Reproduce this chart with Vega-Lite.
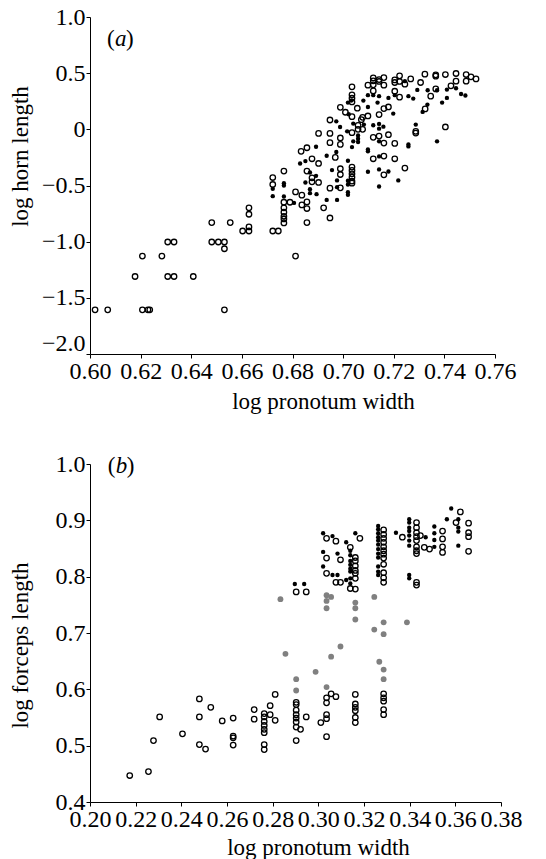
{
  "$schema": "https://vega.github.io/schema/vega-lite/v6.json",
  "padding": {"left": 8, "top": 5, "right": 5, "bottom": 5},
  "spacing": 39,
  "resolve": {"scale": {"fill": "independent", "stroke": "independent", "size": "independent"}},
  "config": {
    "font": "Liberation Serif",
    "view": {"stroke": null},
    "axis": {
      "grid": false, "domainColor": "black", "domainWidth": 1, "tickColor": "black", "tickSize": 4, "tickWidth": 1,
      "labelFont": "Liberation Serif", "labelFontSize": 24, "labelColor": "black", "labelPadding": 1,
      "labelOverlap": false, "labelFlush": false, "labelBound": false,
      "titleFont": "Liberation Serif", "titleFontSize": 23, "titleFontWeight": "normal", "titleColor": "black"
    }
  },
  "vconcat": [
    {
      "width": 405,
      "height": 337,
      "layer": [
        {
          "data": {"values": [
            {"x":0.6020,"y":-1.607,"t":"o"},{"x":0.6070,"y":-1.607,"t":"o"},{"x":0.6207,"y":-1.607,"t":"o"},{"x":0.6229,"y":-1.607,"t":"o"},{"x":0.6236,"y":-1.607,"t":"o"},{"x":0.6531,"y":-1.607,"t":"o"},
            {"x":0.6178,"y":-1.310,"t":"o"},{"x":0.6307,"y":-1.310,"t":"o"},{"x":0.6332,"y":-1.310,"t":"o"},{"x":0.6408,"y":-1.310,"t":"o"},
            {"x":0.6207,"y":-1.128,"t":"o"},{"x":0.6284,"y":-1.128,"t":"o"},{"x":0.6812,"y":-1.128,"t":"o"},
            {"x":0.6307,"y":-1.003,"t":"o"},{"x":0.6332,"y":-1.003,"t":"o"},{"x":0.6481,"y":-1.003,"t":"o"},{"x":0.6507,"y":-1.003,"t":"o"},{"x":0.6531,"y":-1.003,"t":"o"},{"x":0.6531,"y":-1.063,"t":"o"},
            {"x":0.6481,"y":-0.830,"t":"o"},{"x":0.6554,"y":-0.830,"t":"o"},
            {"x":0.6603,"y":-0.905,"t":"o"},{"x":0.6628,"y":-0.905,"t":"o"},{"x":0.6628,"y":-0.869,"t":"o"},{"x":0.6628,"y":-0.756,"t":"o"},{"x":0.6628,"y":-0.699,"t":"o"},
            {"x":0.6722,"y":-0.905,"t":"o"},{"x":0.6744,"y":-0.905,"t":"o"},
            {"x":0.6722,"y":-0.429,"t":"o"},{"x":0.6722,"y":-0.491,"t":"o"},
            {"x":0.6766,"y":-0.372,"t":"o"},{"x":0.6766,"y":-0.649,"t":"o"},{"x":0.6766,"y":-0.699,"t":"o"},{"x":0.6766,"y":-0.738,"t":"o"},{"x":0.6766,"y":-0.774,"t":"o"},{"x":0.6766,"y":-0.798,"t":"o"},{"x":0.6766,"y":-0.833,"t":"o"},
            {"x":0.6790,"y":-0.649,"t":"o"},{"x":0.6812,"y":-0.557,"t":"o"},{"x":0.6837,"y":-0.586,"t":"o"},{"x":0.6857,"y":-0.646,"t":"o"},{"x":0.6837,"y":-0.673,"t":"o"},{"x":0.6857,"y":-0.705,"t":"o"},{"x":0.6857,"y":-0.830,"t":"o"},{"x":0.6923,"y":-0.699,"t":"o"},
            {"x":0.6834,"y":-0.196,"t":"o"},{"x":0.6857,"y":-0.164,"t":"o"},{"x":0.6857,"y":-0.372,"t":"o"},{"x":0.6877,"y":-0.262,"t":"o"},{"x":0.6877,"y":-0.432,"t":"o"},{"x":0.6877,"y":-0.467,"t":"o"},{"x":0.6903,"y":-0.473,"t":"o"},{"x":0.6903,"y":-0.304,"t":"o"},{"x":0.6903,"y":-0.036,"t":"o"},
            {"x":0.6948,"y":-0.789,"t":"o"},{"x":0.6948,"y":-0.524,"t":"o"},{"x":0.6969,"y":-0.250,"t":"o"},{"x":0.6948,"y":-0.119,"t":"o"},{"x":0.6948,"y":-0.036,"t":"o"},{"x":0.6948,"y":0.083,"t":"o"},
            {"x":0.6989,"y":-0.077,"t":"o"},{"x":0.6989,"y":-0.134,"t":"o"},{"x":0.6989,"y":-0.351,"t":"o"},{"x":0.6989,"y":-0.402,"t":"o"},{"x":0.6989,"y":-0.521,"t":"o"},{"x":0.6989,"y":0.196,"t":"o"},
            {"x":0.7009,"y":0.152,"t":"o"},{"x":0.7035,"y":0.113,"t":"o"},
            {"x":0.7035,"y":0.378,"t":"o"},{"x":0.7035,"y":0.307,"t":"o"},{"x":0.7035,"y":0.277,"t":"o"},{"x":0.7035,"y":0.244,"t":"o"},{"x":0.7056,"y":0.188,"t":"o"},
            {"x":0.7035,"y":-0.030,"t":"o"},{"x":0.7035,"y":-0.336,"t":"o"},{"x":0.7035,"y":-0.366,"t":"o"},{"x":0.7035,"y":-0.396,"t":"o"},{"x":0.7035,"y":-0.426,"t":"o"},{"x":0.7035,"y":-0.461,"t":"o"},{"x":0.7035,"y":-0.479,"t":"o"},
            {"x":0.7059,"y":0.036,"t":"o"},{"x":0.7059,"y":0.000,"t":"o"},{"x":0.7072,"y":0.086,"t":"o"},{"x":0.7077,"y":0.107,"t":"o"},{"x":0.7098,"y":0.393,"t":"o"},{"x":0.7098,"y":0.119,"t":"o"},{"x":0.7077,"y":0.000,"t":"o"},
            {"x":0.7119,"y":0.458,"t":"o"},{"x":0.7119,"y":0.432,"t":"o"},{"x":0.7119,"y":0.396,"t":"o"},{"x":0.7119,"y":0.342,"t":"o"},{"x":0.7119,"y":-0.071,"t":"o"},{"x":0.7119,"y":-0.262,"t":"o"},
            {"x":0.7142,"y":0.443,"t":"o"},{"x":0.7142,"y":0.426,"t":"o"},{"x":0.7142,"y":0.131,"t":"o"},{"x":0.7142,"y":-0.060,"t":"o"},
            {"x":0.7161,"y":0.461,"t":"o"},{"x":0.7161,"y":0.393,"t":"o"},{"x":0.7161,"y":0.185,"t":"o"},{"x":0.7161,"y":-0.122,"t":"o"},{"x":0.7161,"y":-0.238,"t":"o"},{"x":0.7161,"y":-0.405,"t":"o"},
            {"x":0.7179,"y":-0.048,"t":"o"},{"x":0.7179,"y":0.199,"t":"o"},
            {"x":0.7204,"y":0.440,"t":"o"},{"x":0.7204,"y":0.417,"t":"o"},{"x":0.7204,"y":0.339,"t":"o"},{"x":0.7204,"y":-0.125,"t":"o"},{"x":0.7204,"y":-0.262,"t":"o"},
            {"x":0.7223,"y":0.476,"t":"o"},{"x":0.7223,"y":0.426,"t":"o"},{"x":0.7223,"y":0.286,"t":"o"},
            {"x":0.7244,"y":0.402,"t":"o"},{"x":0.7244,"y":-0.345,"t":"o"},
            {"x":0.7267,"y":0.449,"t":"o"},{"x":0.7287,"y":-0.018,"t":"o"},{"x":0.7287,"y":-0.033,"t":"o"},
            {"x":0.7306,"y":0.417,"t":"o"},{"x":0.7323,"y":0.491,"t":"o"},{"x":0.7324,"y":0.182,"t":"o"},{"x":0.7346,"y":0.295,"t":"o"},
            {"x":0.7366,"y":0.485,"t":"o"},{"x":0.7366,"y":0.473,"t":"o"},{"x":0.7366,"y":0.360,"t":"o"},
            {"x":0.7404,"y":0.488,"t":"o"},{"x":0.7404,"y":0.021,"t":"o"},{"x":0.7426,"y":0.387,"t":"o"},{"x":0.7446,"y":0.497,"t":"o"},{"x":0.7446,"y":0.429,"t":"o"},
            {"x":0.7486,"y":0.488,"t":"o"},{"x":0.7486,"y":0.429,"t":"o"},{"x":0.7505,"y":0.467,"t":"o"},{"x":0.7525,"y":0.449,"t":"o"},
            {"x":0.6722,"y":-0.530,"t":"f"},{"x":0.6722,"y":-0.595,"t":"f"},
            {"x":0.6766,"y":-0.479,"t":"f"},{"x":0.6766,"y":-0.500,"t":"f"},{"x":0.6766,"y":-0.598,"t":"f"},
            {"x":0.6806,"y":-0.655,"t":"f"},{"x":0.6830,"y":-0.304,"t":"f"},{"x":0.6851,"y":-0.283,"t":"f"},{"x":0.6869,"y":-0.384,"t":"f"},{"x":0.6893,"y":-0.414,"t":"f"},{"x":0.6869,"y":-0.533,"t":"f"},{"x":0.6869,"y":-0.568,"t":"f"},{"x":0.6895,"y":-0.577,"t":"f"},{"x":0.6851,"y":-0.473,"t":"f"},{"x":0.6893,"y":-0.155,"t":"f"},
            {"x":0.6935,"y":-0.628,"t":"f"},{"x":0.6956,"y":-0.363,"t":"f"},{"x":0.6935,"y":-0.235,"t":"f"},{"x":0.6973,"y":-0.202,"t":"f"},{"x":0.6973,"y":0.071,"t":"f"},{"x":0.6988,"y":0.021,"t":"f"},
            {"x":0.6976,"y":-0.455,"t":"f"},{"x":0.6976,"y":-0.515,"t":"f"},{"x":0.6976,"y":-0.628,"t":"f"},
            {"x":0.7019,"y":0.238,"t":"f"},{"x":0.7032,"y":0.256,"t":"f"},{"x":0.7022,"y":0.134,"t":"f"},
            {"x":0.7019,"y":-0.280,"t":"f"},{"x":0.7019,"y":-0.458,"t":"f"},{"x":0.7019,"y":-0.491,"t":"f"},{"x":0.7019,"y":-0.560,"t":"f"},{"x":0.7019,"y":-0.583,"t":"f"},
            {"x":0.7016,"y":-0.018,"t":"f"},{"x":0.7035,"y":-0.158,"t":"f"},{"x":0.7040,"y":-0.107,"t":"f"},{"x":0.7059,"y":-0.054,"t":"f"},{"x":0.7059,"y":-0.083,"t":"f"},{"x":0.7059,"y":-0.113,"t":"f"},{"x":0.7040,"y":0.051,"t":"f"},
            {"x":0.7080,"y":0.256,"t":"f"},{"x":0.7098,"y":0.304,"t":"f"},{"x":0.7098,"y":0.199,"t":"f"},{"x":0.7082,"y":0.042,"t":"f"},
            {"x":0.7119,"y":0.304,"t":"f"},{"x":0.7119,"y":0.036,"t":"f"},
            {"x":0.7098,"y":-0.179,"t":"f"},{"x":0.7098,"y":-0.196,"t":"f"},{"x":0.7098,"y":-0.378,"t":"f"},
            {"x":0.7142,"y":0.295,"t":"f"},{"x":0.7136,"y":0.238,"t":"f"},{"x":0.7142,"y":0.048,"t":"f"},{"x":0.7142,"y":0.006,"t":"f"},{"x":0.7142,"y":-0.107,"t":"f"},{"x":0.7142,"y":-0.241,"t":"f"},{"x":0.7142,"y":-0.357,"t":"f"},{"x":0.7142,"y":-0.509,"t":"f"},
            {"x":0.7159,"y":0.024,"t":"f"},{"x":0.7179,"y":-0.375,"t":"f"},{"x":0.7179,"y":0.280,"t":"f"},
            {"x":0.7204,"y":0.304,"t":"f"},{"x":0.7198,"y":0.140,"t":"f"},{"x":0.7218,"y":-0.455,"t":"f"},
            {"x":0.7244,"y":0.429,"t":"f"},{"x":0.7258,"y":-0.134,"t":"f"},{"x":0.7258,"y":-0.152,"t":"f"},{"x":0.7258,"y":0.295,"t":"f"},
            {"x":0.7277,"y":0.274,"t":"f"},{"x":0.7287,"y":0.042,"t":"f"},{"x":0.7293,"y":0.351,"t":"f"},
            {"x":0.7314,"y":0.155,"t":"f"},{"x":0.7333,"y":0.220,"t":"f"},{"x":0.7334,"y":0.348,"t":"f"},
            {"x":0.7371,"y":-0.107,"t":"f"},{"x":0.7371,"y":0.348,"t":"f"},
            {"x":0.7410,"y":0.354,"t":"f"},{"x":0.7391,"y":0.238,"t":"f"},{"x":0.7446,"y":0.366,"t":"f"},{"x":0.7410,"y":0.280,"t":"f"},{"x":0.7466,"y":0.315,"t":"f"},{"x":0.7483,"y":0.301,"t":"f"}
          ]},
          "encoding": {
            "x": {"field": "x", "type": "quantitative",
                  "scale": {"domain": [0.6, 0.76], "nice": false, "zero": false},
                  "axis": {"title": "log pronotum width", "values": [0.6,0.62,0.64,0.66,0.68,0.7,0.72,0.74,0.76], "format": ".2f", "titleX": 233, "titleY": 36}},
            "y": {"field": "y", "type": "quantitative",
                  "scale": {"domain": [-2, 1], "nice": false, "zero": false},
                  "axis": {"title": "log horn length", "values": [-2,-1.5,-1,-0.5,0,0.5,1], "labelExpr": "datum.value == 0 ? '0' : format(datum.value, '.1f')",
                           "labelOffset": {"condition": {"test": "datum.value == -2", "value": -11}, "value": 0},
                           "titleX": -58, "titleY": 139}},
            "fill": {"field": "t", "type": "nominal", "scale": {"domain": ["o", "f", "g"], "range": ["transparent", "black", "#808080"]}, "legend": null},
            "stroke": {"field": "t", "type": "nominal", "scale": {"domain": ["o", "f", "g"], "range": ["black", "transparent", "transparent"]}, "legend": null},
            "size": {"field": "t", "type": "nominal", "scale": {"type": "ordinal", "domain": ["o", "f", "g"], "range": [30, 19, 34]}, "legend": null}
          },
          "mark": {"type": "point", "shape": "circle", "filled": true, "strokeWidth": 1.3, "opacity": 1}
        },
        {
          "data": {"values": [{"lab": "(", "it": "a", "rp": ")"}]},
          "encoding": {"x": {"datum": 0.6067}, "y": {"datum": 0.744}},
          "layer": [
            {"mark": {"type": "text", "align": "left", "baseline": "alphabetic", "font": "Liberation Serif", "fontSize": 23, "color": "black"},
             "encoding": {"text": {"field": "lab"}}},
            {"mark": {"type": "text", "dx": 8, "align": "left", "baseline": "alphabetic", "font": "Liberation Serif", "fontStyle": "italic", "fontSize": 23, "color": "black"},
             "encoding": {"text": {"field": "it"}}},
            {"mark": {"type": "text", "dx": 19, "align": "left", "baseline": "alphabetic", "font": "Liberation Serif", "fontSize": 23, "color": "black"},
             "encoding": {"text": {"field": "rp"}}}
          ]
        }
      ]
    },
    {
      "width": 411,
      "height": 338,
      "layer": [
        {
          "data": {"values": [
            {"x":0.2834,"y":0.760,"t":"g"},{"x":0.2856,"y":0.663,"t":"g"},{"x":0.2903,"y":0.618,"t":"g"},{"x":0.2903,"y":0.598,"t":"g"},{"x":0.2988,"y":0.631,"t":"g"},
            {"x":0.3036,"y":0.767,"t":"g"},{"x":0.3036,"y":0.757,"t":"g"},{"x":0.3056,"y":0.764,"t":"g"},{"x":0.3036,"y":0.744,"t":"g"},{"x":0.3036,"y":0.604,"t":"g"},
            {"x":0.3056,"y":0.658,"t":"g"},{"x":0.3097,"y":0.676,"t":"g"},{"x":0.3162,"y":0.754,"t":"g"},{"x":0.3162,"y":0.744,"t":"g"},{"x":0.3162,"y":0.724,"t":"g"},
            {"x":0.3245,"y":0.764,"t":"g"},{"x":0.3245,"y":0.706,"t":"g"},{"x":0.3267,"y":0.649,"t":"g"},{"x":0.3286,"y":0.719,"t":"g"},{"x":0.3286,"y":0.698,"t":"g"},
            {"x":0.3286,"y":0.635,"t":"g"},{"x":0.3286,"y":0.618,"t":"g"},{"x":0.3388,"y":0.719,"t":"g"},
            {"x":0.2174,"y":0.447,"t":"o"},{"x":0.2256,"y":0.454,"t":"o"},{"x":0.2278,"y":0.509,"t":"o"},{"x":0.2305,"y":0.551,"t":"o"},{"x":0.2405,"y":0.521,"t":"o"},
            {"x":0.2479,"y":0.583,"t":"o"},{"x":0.2479,"y":0.551,"t":"o"},{"x":0.2479,"y":0.502,"t":"o"},{"x":0.2506,"y":0.494,"t":"o"},{"x":0.2529,"y":0.568,"t":"o"},
            {"x":0.2579,"y":0.544,"t":"o"},{"x":0.2627,"y":0.549,"t":"o"},{"x":0.2627,"y":0.517,"t":"o"},{"x":0.2627,"y":0.514,"t":"o"},{"x":0.2627,"y":0.501,"t":"o"},
            {"x":0.2719,"y":0.564,"t":"o"},{"x":0.2719,"y":0.547,"t":"o"},
            {"x":0.2763,"y":0.557,"t":"o"},{"x":0.2763,"y":0.551,"t":"o"},{"x":0.2763,"y":0.543,"t":"o"},{"x":0.2763,"y":0.536,"t":"o"},{"x":0.2763,"y":0.529,"t":"o"},{"x":0.2763,"y":0.523,"t":"o"},{"x":0.2763,"y":0.502,"t":"o"},{"x":0.2763,"y":0.493,"t":"o"},
            {"x":0.2789,"y":0.571,"t":"o"},{"x":0.2789,"y":0.555,"t":"o"},{"x":0.2811,"y":0.591,"t":"o"},{"x":0.2811,"y":0.545,"t":"o"},
            {"x":0.2903,"y":0.577,"t":"o"},{"x":0.2903,"y":0.573,"t":"o"},{"x":0.2903,"y":0.563,"t":"o"},{"x":0.2903,"y":0.555,"t":"o"},{"x":0.2903,"y":0.549,"t":"o"},{"x":0.2903,"y":0.542,"t":"o"},{"x":0.2903,"y":0.533,"t":"o"},{"x":0.2903,"y":0.509,"t":"o"},
            {"x":0.2947,"y":0.551,"t":"o"},{"x":0.2922,"y":0.529,"t":"o"},{"x":0.3011,"y":0.541,"t":"o"},
            {"x":0.3036,"y":0.585,"t":"o"},{"x":0.3036,"y":0.576,"t":"o"},{"x":0.3036,"y":0.555,"t":"o"},{"x":0.3036,"y":0.548,"t":"o"},{"x":0.3036,"y":0.516,"t":"o"},
            {"x":0.3056,"y":0.592,"t":"o"},{"x":0.3077,"y":0.587,"t":"o"},
            {"x":0.3162,"y":0.591,"t":"o"},{"x":0.3162,"y":0.574,"t":"o"},{"x":0.3162,"y":0.568,"t":"o"},{"x":0.3162,"y":0.562,"t":"o"},{"x":0.3162,"y":0.550,"t":"o"},{"x":0.3162,"y":0.541,"t":"o"},
            {"x":0.3286,"y":0.592,"t":"o"},{"x":0.3286,"y":0.585,"t":"o"},{"x":0.3286,"y":0.579,"t":"o"},{"x":0.3286,"y":0.564,"t":"o"},{"x":0.3286,"y":0.555,"t":"o"},
            {"x":0.2903,"y":0.773,"t":"o"},{"x":0.2947,"y":0.773,"t":"o"},
            {"x":0.3036,"y":0.868,"t":"o"},{"x":0.3036,"y":0.833,"t":"o"},{"x":0.3036,"y":0.806,"t":"o"},
            {"x":0.3077,"y":0.863,"t":"o"},{"x":0.3097,"y":0.830,"t":"o"},{"x":0.3077,"y":0.790,"t":"o"},{"x":0.3097,"y":0.790,"t":"o"},
            {"x":0.3140,"y":0.852,"t":"o"},{"x":0.3140,"y":0.779,"t":"o"},
            {"x":0.3162,"y":0.834,"t":"o"},{"x":0.3162,"y":0.828,"t":"o"},{"x":0.3162,"y":0.819,"t":"o"},{"x":0.3162,"y":0.811,"t":"o"},{"x":0.3162,"y":0.806,"t":"o"},{"x":0.3162,"y":0.797,"t":"o"},{"x":0.3162,"y":0.778,"t":"o"},
            {"x":0.3182,"y":0.868,"t":"o"},
            {"x":0.3286,"y":0.883,"t":"o"},{"x":0.3286,"y":0.875,"t":"o"},{"x":0.3286,"y":0.868,"t":"o"},{"x":0.3286,"y":0.861,"t":"o"},{"x":0.3286,"y":0.853,"t":"o"},{"x":0.3286,"y":0.846,"t":"o"},{"x":0.3286,"y":0.840,"t":"o"},{"x":0.3286,"y":0.833,"t":"o"},{"x":0.3286,"y":0.822,"t":"o"},{"x":0.3286,"y":0.807,"t":"o"},{"x":0.3286,"y":0.798,"t":"o"},{"x":0.3286,"y":0.790,"t":"o"},
            {"x":0.3368,"y":0.870,"t":"o"},
            {"x":0.3430,"y":0.896,"t":"o"},{"x":0.3430,"y":0.887,"t":"o"},{"x":0.3430,"y":0.878,"t":"o"},{"x":0.3430,"y":0.871,"t":"o"},{"x":0.3430,"y":0.864,"t":"o"},{"x":0.3430,"y":0.853,"t":"o"},{"x":0.3430,"y":0.846,"t":"o"},{"x":0.3430,"y":0.841,"t":"o"},{"x":0.3430,"y":0.790,"t":"o"},{"x":0.3430,"y":0.785,"t":"o"},
            {"x":0.3447,"y":0.873,"t":"o"},{"x":0.3464,"y":0.852,"t":"o"},{"x":0.3487,"y":0.849,"t":"o"},
            {"x":0.3544,"y":0.881,"t":"o"},{"x":0.3544,"y":0.867,"t":"o"},{"x":0.3544,"y":0.853,"t":"o"},{"x":0.3544,"y":0.843,"t":"o"},
            {"x":0.3603,"y":0.896,"t":"o"},{"x":0.3622,"y":0.915,"t":"o"},
            {"x":0.3658,"y":0.895,"t":"o"},{"x":0.3658,"y":0.878,"t":"o"},{"x":0.3658,"y":0.871,"t":"o"},{"x":0.3658,"y":0.845,"t":"o"},
            {"x":0.2897,"y":0.787,"t":"f"},{"x":0.2938,"y":0.787,"t":"f"},
            {"x":0.3021,"y":0.877,"t":"f"},{"x":0.3021,"y":0.844,"t":"f"},{"x":0.3021,"y":0.818,"t":"f"},
            {"x":0.3062,"y":0.872,"t":"f"},{"x":0.3062,"y":0.803,"t":"f"},{"x":0.3084,"y":0.803,"t":"f"},{"x":0.3084,"y":0.841,"t":"f"},
            {"x":0.3122,"y":0.861,"t":"f"},{"x":0.3122,"y":0.794,"t":"f"},
            {"x":0.3140,"y":0.846,"t":"f"},{"x":0.3140,"y":0.838,"t":"f"},{"x":0.3140,"y":0.828,"t":"f"},{"x":0.3140,"y":0.821,"t":"f"},{"x":0.3140,"y":0.814,"t":"f"},{"x":0.3140,"y":0.809,"t":"f"},{"x":0.3140,"y":0.797,"t":"f"},{"x":0.3140,"y":0.788,"t":"f"},
            {"x":0.3162,"y":0.877,"t":"f"},
            {"x":0.3262,"y":0.890,"t":"f"},{"x":0.3262,"y":0.884,"t":"f"},{"x":0.3262,"y":0.877,"t":"f"},{"x":0.3262,"y":0.870,"t":"f"},{"x":0.3262,"y":0.864,"t":"f"},{"x":0.3262,"y":0.857,"t":"f"},{"x":0.3262,"y":0.849,"t":"f"},{"x":0.3262,"y":0.841,"t":"f"},{"x":0.3262,"y":0.834,"t":"f"},{"x":0.3262,"y":0.818,"t":"f"},{"x":0.3262,"y":0.809,"t":"f"},{"x":0.3262,"y":0.803,"t":"f"},
            {"x":0.3340,"y":0.878,"t":"f"},
            {"x":0.3398,"y":0.902,"t":"f"},{"x":0.3398,"y":0.896,"t":"f"},{"x":0.3398,"y":0.887,"t":"f"},{"x":0.3398,"y":0.881,"t":"f"},{"x":0.3398,"y":0.873,"t":"f"},{"x":0.3398,"y":0.864,"t":"f"},{"x":0.3398,"y":0.855,"t":"f"},{"x":0.3398,"y":0.803,"t":"f"},{"x":0.3398,"y":0.797,"t":"f"},
            {"x":0.3470,"y":0.870,"t":"f"},
            {"x":0.3508,"y":0.889,"t":"f"},{"x":0.3508,"y":0.877,"t":"f"},{"x":0.3508,"y":0.865,"t":"f"},{"x":0.3508,"y":0.853,"t":"f"},
            {"x":0.3563,"y":0.902,"t":"f"},{"x":0.3582,"y":0.921,"t":"f"},
            {"x":0.3613,"y":0.902,"t":"f"},{"x":0.3613,"y":0.887,"t":"f"},{"x":0.3613,"y":0.880,"t":"f"},{"x":0.3613,"y":0.855,"t":"f"}
          ]},
          "encoding": {
            "x": {"field": "x", "type": "quantitative",
                  "scale": {"domain": [0.2, 0.38], "nice": false, "zero": false},
                  "axis": {"title": "log pronotum width", "values": [0.2,0.22,0.24,0.26,0.28,0.3,0.32,0.34,0.36,0.38], "format": ".2f", "titleX": 228, "titleY": 34}},
            "y": {"field": "y", "type": "quantitative",
                  "scale": {"domain": [0.4, 1.0], "nice": false, "zero": false},
                  "axis": {"title": "log forceps length", "values": [0.4,0.5,0.6,0.7,0.8,0.9,1.0], "format": ".1f", "titleX": -58, "titleY": 181}},
            "fill": {"field": "t", "type": "nominal", "scale": {"domain": ["o", "f", "g"], "range": ["transparent", "black", "#808080"]}, "legend": null},
            "stroke": {"field": "t", "type": "nominal", "scale": {"domain": ["o", "f", "g"], "range": ["black", "transparent", "transparent"]}, "legend": null},
            "size": {"field": "t", "type": "nominal", "scale": {"type": "ordinal", "domain": ["o", "f", "g"], "range": [30, 19, 34]}, "legend": null}
          },
          "mark": {"type": "point", "shape": "circle", "filled": true, "strokeWidth": 1.3, "opacity": 1}
        },
        {
          "data": {"values": [{"lab": "(", "it": "b", "rp": ")"}]},
          "encoding": {"x": {"datum": 0.2078}, "y": {"datum": 0.9845}},
          "layer": [
            {"mark": {"type": "text", "align": "left", "baseline": "alphabetic", "font": "Liberation Serif", "fontSize": 23, "color": "black"},
             "encoding": {"text": {"field": "lab"}}},
            {"mark": {"type": "text", "dx": 8, "align": "left", "baseline": "alphabetic", "font": "Liberation Serif", "fontStyle": "italic", "fontSize": 23, "color": "black"},
             "encoding": {"text": {"field": "it"}}},
            {"mark": {"type": "text", "dx": 19, "align": "left", "baseline": "alphabetic", "font": "Liberation Serif", "fontSize": 23, "color": "black"},
             "encoding": {"text": {"field": "rp"}}}
          ]
        }
      ]
    }
  ]
}
